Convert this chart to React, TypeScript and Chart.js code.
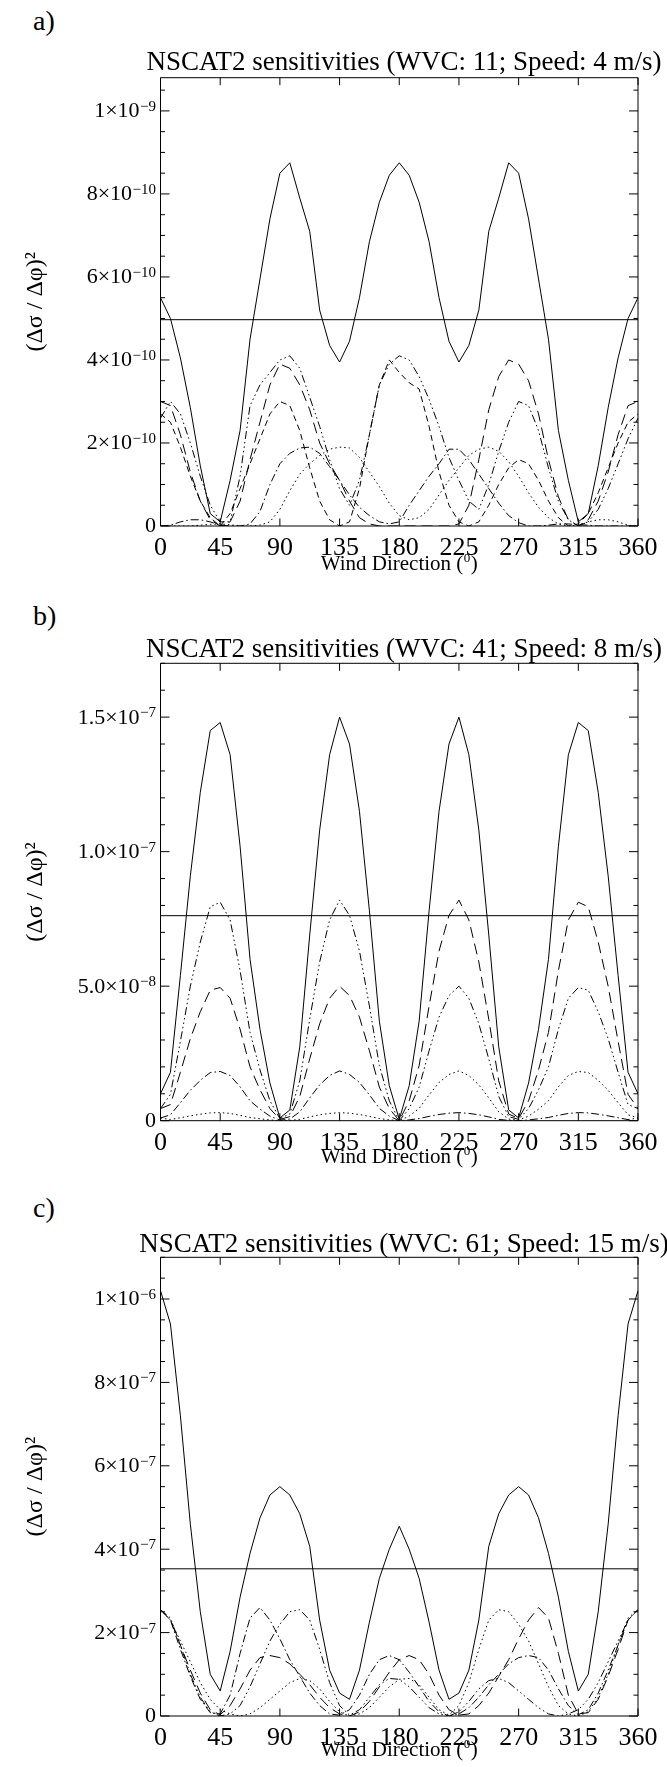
import React, { useEffect, useRef } from "react";
import { Chart, registerables } from "chart.js";

Chart.register(...registerables);

const SERIF = "'Liberation Serif', 'Times New Roman', serif";

// wind direction (degrees)
const angles = [0, 7.5, 15, 22.5, 30, 37.5, 45, 52.5, 60, 67.5, 75, 82.5, 90, 97.5, 105, 112.5, 120, 127.5, 135, 142.5, 150, 157.5, 165, 172.5, 180, 187.5, 195, 202.5, 210, 217.5, 225, 232.5, 240, 247.5, 255, 262.5, 270, 277.5, 285, 292.5, 300, 307.5, 315, 322.5, 330, 337.5, 345, 352.5, 360];
const xTicks = [0, 45, 90, 135, 180, 225, 270, 315, 360];

// ---------- panel a (units of 1e-10) ----------
const aTotal = [5.5, 5.0, 4.05, 2.85, 1.45, 0.3, 0.1, 1.1, 2.3, 4.5, 5.95, 7.4, 8.5, 8.75, 7.9, 7.1, 5.2, 4.35, 3.95, 4.45, 5.5, 6.85, 7.8, 8.45, 8.75, 8.45, 7.8, 6.85, 5.5, 4.45, 3.95, 4.35, 5.2, 7.1, 7.9, 8.75, 8.5, 7.4, 5.95, 4.5, 2.3, 1.1, 0.1, 0.3, 1.45, 2.85, 4.05, 5.0, 5.5];
const aMean = 4.97;
const aLongDash = [3.0, 2.9, 2.2, 1.3, 0.6, 0.15, 0.0, 0.1, 0.6, 1.6, 2.5, 3.4, 3.9, 3.8, 3.4, 2.8, 2.0, 1.5, 1.1, 0.6, 0.2, 0.05, 0.0, 0.0, 0.0, 0.0, 0.0, 0.0, 0.0, 0.0, 0.05, 0.5, 1.6, 2.8, 3.6, 4.0, 3.9, 3.5, 2.7, 1.6, 0.7, 0.15, 0.0, 0.15, 0.6, 1.3, 2.2, 2.9, 3.0];
const aDashed = [2.7, 2.5, 1.9, 1.2, 0.6, 0.2, 0.0, 0.3, 0.9, 1.5, 2.1, 2.7, 3.0, 2.9, 2.3, 1.4, 0.6, 0.15, 0.0, 0.1, 0.9, 2.2, 3.4, 4.0, 3.7, 3.45, 3.3, 2.4, 1.3, 0.5, 0.1, 0.0, 0.1, 0.5, 1.0, 1.4, 1.6, 1.5, 1.1, 0.6, 0.2, 0.0, 0.05, 0.3, 0.8, 1.4, 2.0, 2.5, 2.7];
const aDashDot3 = [2.6, 3.0, 2.7, 2.0, 1.2, 0.5, 0.1, 0.1, 1.2, 2.9, 3.4, 3.7, 4.0, 4.1, 3.8, 3.1, 2.4, 1.6, 0.9, 0.5, 1.1, 2.2, 3.4, 3.9, 4.1, 4.0, 3.6, 3.05, 2.4, 1.65, 1.1, 0.6, 0.4, 1.0, 1.8, 2.5, 3.0, 2.9, 2.3, 1.4, 0.6, 0.15, 0.0, 0.1, 0.4, 0.9, 1.5, 2.1, 2.6];
const aDashDot = [0.0, 0.02, 0.1, 0.15, 0.15, 0.1, 0.02, 0.0, 0.0, 0.05, 0.35, 1.0, 1.5, 1.75, 1.88, 1.9, 1.75, 1.43, 1.1, 0.75, 0.45, 0.25, 0.1, 0.05, 0.1, 0.5, 0.85, 1.2, 1.5, 1.85, 1.85, 1.6, 1.25, 0.9, 0.55, 0.25, 0.08, 0.0, 0.0, 0.02, 0.05, 0.05, 0.03, 0.02, 0.0, 0.0, 0.0, 0.0, 0.0];
const aDotted = [0.0, 0.0, 0.0, 0.0, 0.02, 0.04, 0.05, 0.03, 0.0, 0.0, 0.02, 0.1, 0.4, 0.85, 1.25, 1.5, 1.7, 1.85, 1.9, 1.88, 1.65, 1.3, 0.95, 0.55, 0.25, 0.15, 0.2, 0.4, 0.75, 1.1, 1.4, 1.7, 1.85, 1.9, 1.8, 1.55, 1.2, 0.8, 0.45, 0.2, 0.05, 0.0, 0.02, 0.1, 0.15, 0.15, 0.1, 0.02, 0.0];

// ---------- panel b (units of 1e-8) ----------
const bTotal = [1.0, 1.8, 5.4, 9.1, 12.2, 14.5, 14.8, 13.6, 10.2, 6.0, 3.4, 1.4, 0.1, 0.4, 2.75, 6.9, 10.8, 13.6, 15.0, 14.0, 11.5, 7.8, 3.7, 1.3, 0.05, 1.3, 3.7, 7.8, 11.5, 14.0, 15.0, 13.6, 10.8, 6.9, 2.75, 0.4, 0.1, 1.4, 3.4, 6.0, 10.2, 13.6, 14.8, 14.5, 12.2, 9.1, 5.4, 1.8, 1.0];
const bMean = 7.62;
const bDashDot3 = [0.45, 0.98, 2.95, 5.0, 6.64, 7.95, 8.12, 7.46, 5.58, 3.28, 1.89, 0.74, 0.08, 0.25, 1.48, 3.77, 5.9, 7.46, 8.2, 7.63, 6.31, 4.26, 2.05, 0.74, 0.0, 0.45, 1.25, 2.6, 3.85, 4.65, 5.0, 4.55, 3.6, 2.3, 0.9, 0.15, 0.05, 0.45, 1.15, 2.0, 3.4, 4.55, 4.95, 4.85, 4.05, 3.05, 1.8, 0.6, 0.45];
const bLongDash = [0.45, 0.6, 1.8, 3.05, 4.05, 4.85, 4.95, 4.55, 3.4, 2.0, 1.15, 0.45, 0.05, 0.15, 0.9, 2.3, 3.6, 4.55, 5.0, 4.65, 3.85, 2.6, 1.25, 0.45, 0.0, 0.74, 2.05, 4.26, 6.31, 7.63, 8.2, 7.46, 5.9, 3.77, 1.48, 0.25, 0.08, 0.74, 1.89, 3.28, 5.58, 7.46, 8.12, 7.95, 6.64, 5.0, 2.95, 0.98, 0.45];
const bDashDot = [0.1, 0.22, 0.67, 1.13, 1.5, 1.79, 1.83, 1.68, 1.26, 0.74, 0.43, 0.17, 0.02, 0.06, 0.33, 0.85, 1.33, 1.68, 1.85, 1.72, 1.42, 0.96, 0.46, 0.17, 0.0, 0.03, 0.08, 0.16, 0.23, 0.28, 0.3, 0.27, 0.22, 0.14, 0.05, 0.01, 0.0, 0.03, 0.07, 0.12, 0.2, 0.27, 0.3, 0.29, 0.24, 0.18, 0.11, 0.04, 0.1];
const bDotted = [0.1, 0.04, 0.11, 0.18, 0.24, 0.29, 0.3, 0.27, 0.2, 0.12, 0.07, 0.03, 0.0, 0.01, 0.05, 0.14, 0.22, 0.27, 0.3, 0.28, 0.23, 0.16, 0.08, 0.03, 0.0, 0.17, 0.46, 0.96, 1.42, 1.72, 1.85, 1.68, 1.33, 0.85, 0.33, 0.06, 0.02, 0.17, 0.43, 0.74, 1.26, 1.68, 1.83, 1.79, 1.5, 1.13, 0.67, 0.22, 0.1];

// ---------- panel c (units of 1e-7) ----------
const cTotal = [10.2, 9.4, 7.2, 4.6, 2.5, 1.0, 0.6, 1.55, 2.85, 3.9, 4.75, 5.3, 5.5, 5.3, 4.85, 4.07, 2.3, 1.1, 0.55, 0.4, 1.1, 2.25, 3.3, 4.0, 4.55, 4.0, 3.3, 2.25, 1.1, 0.4, 0.55, 1.1, 2.3, 4.07, 4.85, 5.3, 5.5, 5.3, 4.75, 3.9, 2.85, 1.55, 0.6, 1.0, 2.5, 4.6, 7.2, 9.4, 10.2];
const cMean = 3.53;
const cDashDot = [2.55, 2.3, 1.6, 0.95, 0.4, 0.08, 0.05, 0.5, 1.5, 2.35, 2.6, 2.3, 1.85, 1.35, 0.95, 0.55, 0.25, 0.05, 0.02, 0.15, 0.5, 1.0, 1.35, 1.45, 1.35, 1.05, 0.7, 0.35, 0.1, 0.0, 0.05, 0.2, 0.45, 0.75, 1.0, 1.25, 1.4, 1.45, 1.4, 1.1, 0.65, 0.25, 0.03, 0.15, 0.55, 1.1, 1.7, 2.3, 2.55];
const cDashDot3 = [2.55, 2.35, 1.7, 1.0, 0.45, 0.1, 0.0, 0.05, 0.25, 0.7, 1.25, 1.8, 2.2, 2.5, 2.55, 2.3, 1.6, 0.8, 0.25, 0.02, 0.15, 0.45, 0.75, 0.9, 0.88, 0.7, 0.45, 0.2, 0.05, 0.0, 0.1, 0.35, 0.65, 0.85, 0.9, 0.8, 0.6, 0.4, 0.2, 0.05, 0.0, 0.05, 0.15, 0.4, 0.8, 1.3, 1.8, 2.3, 2.55];
const cLongDash = [2.55, 2.3, 1.7, 1.1, 0.55, 0.15, 0.03, 0.25, 0.65, 1.1, 1.4, 1.45, 1.4, 1.25, 1.0, 0.75, 0.45, 0.2, 0.05, 0.0, 0.1, 0.35, 0.7, 1.05, 1.35, 1.45, 1.35, 1.0, 0.5, 0.15, 0.02, 0.05, 0.25, 0.55, 0.95, 1.35, 1.85, 2.3, 2.6, 2.35, 1.5, 0.5, 0.05, 0.08, 0.4, 0.95, 1.6, 2.3, 2.55];
const cDotted = [2.55, 2.3, 1.8, 1.3, 0.8, 0.4, 0.15, 0.05, 0.0, 0.05, 0.2, 0.4, 0.6, 0.8, 0.9, 0.85, 0.65, 0.35, 0.1, 0.0, 0.05, 0.2, 0.45, 0.7, 0.88, 0.9, 0.75, 0.45, 0.15, 0.02, 0.25, 0.8, 1.6, 2.3, 2.55, 2.5, 2.2, 1.8, 1.25, 0.7, 0.25, 0.05, 0.0, 0.1, 0.45, 1.0, 1.7, 2.35, 2.55];

// line styles
const SOLID: number[] = [];
const LONG_DASH = [11, 6];
const DASHED = [6, 4];
const DOTTED = [1.5, 3];
const DASH_DOT = [8, 3, 1.5, 3];
const DASH_DOT3 = [8, 3, 1.5, 3, 1.5, 3, 1.5, 3];

type Series = { data: number[]; dash: number[] };
type PanelCfg = {
  letter: string;
  title: string;
  top: number;
  height: number;
  plotTop: number;
  plotBottom: number;
  titleBase: number;
  xTitleBase: number;
  yMax: number;
  yMajors: number[];
  yMant: string[];
  yExp: string[];
  yMinorStep: number;
  mean: number;
  series: Series[];
  letterTop: number;
};

const panels: PanelCfg[] = [
  {
    letter: "a)",
    title: "NSCAT2 sensitivities (WVC: 11; Speed: 4 m/s)",
    top: 0,
    height: 585,
    plotTop: 77.7,
    plotBottom: 526,
    titleBase: 7.9,
    xTitleBase: 43.5,
    yMax: 10.8,
    yMajors: [0, 2, 4, 6, 8, 10],
    yMant: ["0", "2×10", "4×10", "6×10", "8×10", "1×10"],
    yExp: ["", "−10", "−10", "−10", "−10", "−9"],
    yMinorStep: 0.5,
    mean: aMean,
    series: [
      { data: aTotal, dash: SOLID },
      { data: aLongDash, dash: LONG_DASH },
      { data: aDashed, dash: DASHED },
      { data: aDashDot3, dash: DASH_DOT3 },
      { data: aDashDot, dash: DASH_DOT },
      { data: aDotted, dash: DOTTED },
    ],
    letterTop: 7,
  },
  {
    letter: "b)",
    title: "NSCAT2 sensitivities (WVC: 41; Speed: 8 m/s)",
    top: 585,
    height: 590,
    plotTop: 78.3,
    plotBottom: 535.7,
    titleBase: 5.9,
    xTitleBase: 42.2,
    yMax: 17.0,
    yMajors: [0, 5, 10, 15],
    yMant: ["0", "5.0×10", "1.0×10", "1.5×10"],
    yExp: ["", "−8", "−7", "−7"],
    yMinorStep: 1,
    mean: bMean,
    series: [
      { data: bTotal, dash: SOLID },
      { data: bDashDot3, dash: DASH_DOT3 },
      { data: bLongDash, dash: LONG_DASH },
      { data: bDashDot, dash: DASH_DOT },
      { data: bDotted, dash: DOTTED },
    ],
    letterTop: 602,
  },
  {
    letter: "c)",
    title: "NSCAT2 sensitivities (WVC: 61; Speed: 15 m/s)",
    top: 1175,
    height: 592,
    plotTop: 82.3,
    plotBottom: 541,
    titleBase: 4.9,
    xTitleBase: 40.2,
    yMax: 11.0,
    yMajors: [0, 2, 4, 6, 8, 10],
    yMant: ["0", "2×10", "4×10", "6×10", "8×10", "1×10"],
    yExp: ["", "−7", "−7", "−7", "−7", "−6"],
    yMinorStep: 0.5,
    mean: cMean,
    series: [
      { data: cTotal, dash: SOLID },
      { data: cDashDot, dash: DASH_DOT },
      { data: cDashDot3, dash: DASH_DOT3 },
      { data: cLongDash, dash: LONG_DASH },
      { data: cDotted, dash: DOTTED },
    ],
    letterTop: 1194,
  },
];

const PLOT_LEFT = 160.5;
const PLOT_RIGHT = 638;
const TITLE_CENTER_X = 404;

// frame with inward ticks on all four sides (positions from the chart's scales)
const frameTicks = {
  id: "frameTicks",
  afterDatasetsDraw(chart: any, _args: any, opts: any) {
    const { ctx, chartArea } = chart;
    const { left, right, top, bottom } = chartArea;
    const xs = chart.scales.x;
    const ys = chart.scales.y;
    const majors: number[] = opts.majors || [];
    ctx.save();
    ctx.strokeStyle = "#000";
    ctx.lineWidth = 1;
    ctx.setLineDash([]);
    ctx.beginPath();
    ctx.rect(left, top, right - left, bottom - top);
    xs.ticks.forEach((t: any) => {
      const px = xs.getPixelForValue(t.value);
      ctx.moveTo(px, bottom);
      ctx.lineTo(px, bottom - 7.5);
      ctx.moveTo(px, top);
      ctx.lineTo(px, top + 7.5);
    });
    ys.ticks.forEach((t: any) => {
      const py = ys.getPixelForValue(t.value);
      const isMajor = majors.some((m) => Math.abs(m - t.value) < 1e-6);
      const len = isMajor ? 9 : 4.5;
      ctx.moveTo(left, py);
      ctx.lineTo(left + len, py);
      ctx.moveTo(right, py);
      ctx.lineTo(right - len, py);
    });
    ctx.stroke();
    ctx.restore();
  },
};

// panel title, y tick labels and x-axis title (with true superscripts)
const supText = {
  id: "supText",
  afterDraw(chart: any, _args: any, opts: any) {
    const { ctx, chartArea } = chart;
    const ys = chart.scales.y;
    ctx.save();
    ctx.fillStyle = "#000";
    ctx.textBaseline = "alphabetic";

    // title
    ctx.font = `27px ${SERIF}`;
    ctx.textAlign = "center";
    ctx.fillText(opts.title, TITLE_CENTER_X, chartArea.top - opts.titleBase);

    // y tick labels
    const xr = chartArea.left - 4.5;
    (opts.majors as number[]).forEach((m, i) => {
      const py = ys.getPixelForValue(m);
      const base = py + 6.4;
      const exp = opts.exps[i] as string;
      let ew = 0;
      if (exp) {
        ctx.font = `15px ${SERIF}`;
        ctx.textAlign = "right";
        ew = ctx.measureText(exp).width;
        ctx.fillText(exp, xr, base - 6.5);
      }
      ctx.font = `22px ${SERIF}`;
      ctx.textAlign = "right";
      ctx.fillText(opts.mants[i], xr - ew - (exp ? 0.5 : 0), base);
    });

    // x-axis title
    const cx = (chartArea.left + chartArea.right) / 2;
    const by = chartArea.bottom + opts.xTitleBase;
    const t1 = "Wind Direction (";
    const t2 = "0";
    const t3 = ")";
    ctx.font = `21px ${SERIF}`;
    const w1 = ctx.measureText(t1).width;
    const w3 = ctx.measureText(t3).width;
    ctx.font = `13px ${SERIF}`;
    const w2 = ctx.measureText(t2).width;
    const x0 = cx - (w1 + w2 + w3 + 1) / 2;
    ctx.textAlign = "left";
    ctx.font = `21px ${SERIF}`;
    ctx.fillText(t1, x0, by);
    ctx.font = `13px ${SERIF}`;
    ctx.fillText(t2, x0 + w1 + 0.5, by - 8);
    ctx.font = `21px ${SERIF}`;
    ctx.fillText(t3, x0 + w1 + w2 + 1, by);
    ctx.restore();
  },
};

function Panel({ p }: { p: PanelCfg }) {
  const ref = useRef<HTMLCanvasElement | null>(null);
  useEffect(() => {
    if (!ref.current) return;
    const yTickVals: number[] = [];
    for (let v = 0; v <= p.yMax + 1e-9; v += p.yMinorStep) yTickVals.push(Math.round(v * 1000) / 1000);
    const datasets: any[] = p.series.map((s) => ({
      data: angles.map((a, i) => ({ x: a, y: s.data[i] })),
      borderColor: "#000",
      borderWidth: 1,
      borderDash: s.dash,
      pointRadius: 0,
      fill: false,
      tension: 0,
    }));
    datasets.push({
      data: [
        { x: 0, y: p.mean },
        { x: 360, y: p.mean },
      ],
      borderColor: "#000",
      borderWidth: 1,
      pointRadius: 0,
      fill: false,
    });
    const chart = new Chart(ref.current, {
      type: "line",
      data: { datasets },
      options: {
        animation: false,
        responsive: false,
        maintainAspectRatio: false,
        layout: { padding: { left: 0, right: 667 - PLOT_RIGHT, top: p.plotTop, bottom: 0 } },
        plugins: {
          legend: { display: false },
          tooltip: { enabled: false },
          title: { display: false },
          frameTicks: { majors: p.yMajors },
          supText: {
            title: p.title,
            titleBase: p.titleBase,
            majors: p.yMajors,
            mants: p.yMant,
            exps: p.yExp,
            xTitleBase: p.xTitleBase,
          },
        } as any,
        scales: {
          x: {
            type: "linear",
            min: 0,
            max: 360,
            position: "bottom",
            afterBuildTicks: (s: any) => {
              s.ticks = xTicks.map((v) => ({ value: v }));
            },
            afterFit: (s: any) => {
              s.height = p.height - p.plotBottom;
            },
            grid: { display: false, drawTicks: false },
            border: { display: false },
            ticks: {
              autoSkip: false,
              maxRotation: 0,
              padding: 7,
              color: "#000",
              font: { family: SERIF, size: 26 },
              callback: (v: any) => String(v),
            },
            title: { display: false },
          },
          y: {
            type: "linear",
            min: 0,
            max: p.yMax,
            afterBuildTicks: (s: any) => {
              s.ticks = yTickVals.map((v) => ({ value: v }));
            },
            afterFit: (s: any) => {
              s.width = PLOT_LEFT;
            },
            grid: { display: false, drawTicks: false },
            border: { display: false },
            ticks: { display: false, autoSkip: false },
            title: {
              display: true,
              text: "(Δσ / Δφ)²",
              color: "#000",
              font: { family: SERIF, size: 24 },
              padding: { top: 21.6, bottom: 0 },
            },
          },
        },
      } as any,
      plugins: [frameTicks as any, supText as any],
    });
    return () => chart.destroy();
  }, [p]);

  return (
    <>
      <div
        style={{
          position: "absolute",
          left: 33,
          top: p.letterTop,
          fontFamily: SERIF,
          fontSize: 28,
          lineHeight: 1,
          color: "#000",
        }}
      >
        {p.letter}
      </div>
      <div style={{ position: "absolute", left: 0, top: p.top, width: 667, height: p.height }}>
        <canvas ref={ref} width={667} height={p.height} />
      </div>
    </>
  );
}

export default function App() {
  return (
    <div style={{ position: "absolute", left: 0, top: 0, width: 667, height: 1767, background: "#fff" }}>
      {panels.map((p) => (
        <Panel key={p.letter} p={p} />
      ))}
    </div>
  );
}
